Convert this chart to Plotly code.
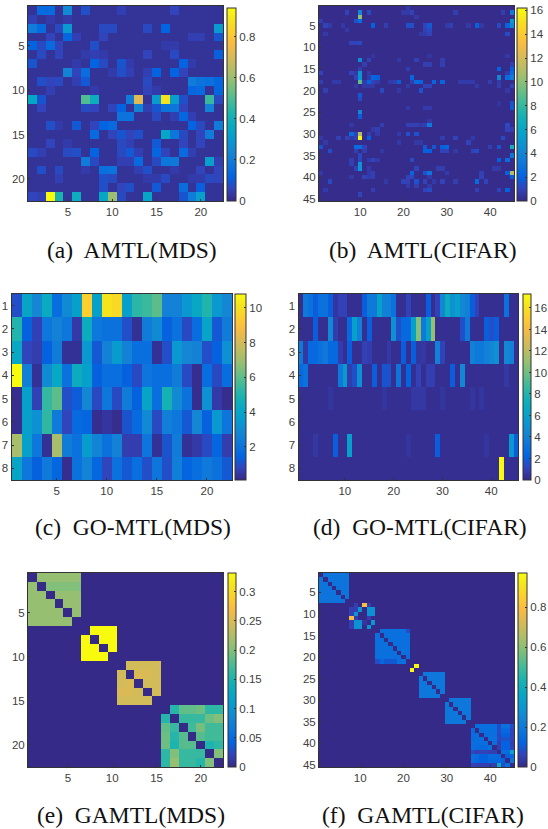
import plotly.graph_objects as go

W, H = 548, 829

# ---------- data ----------
amtl_mds_base = 0.02
amtl_mds = {
 1:{2:.14,3:.14,5:.25,7:.08,11:.05,17:.06},
 2:{1:.05,3:.04,5:.04},
 3:{1:.2,2:.14,4:.07,5:.3,9:.07,10:.07,14:.07,16:.12,22:.3},
 4:{3:.06,5:.13,6:.05,9:.06,19:.05,20:.05,22:.09},
 5:{1:.12,2:.07,3:.14,4:.06,8:.08,16:.04,17:.04},
 6:{2:.07,4:.06,7:.04,8:.05,9:.04,14:.06,17:.07,22:.11},
 7:{1:.09,6:.04,8:.12,9:.07,11:.09,12:.04,18:.12,19:.04},
 8:{5:.23,6:.06,7:.15,10:.04,11:.08,12:.05,14:.05,15:.12,17:.12,18:.06},
 9:{2:.08,3:.06,4:.07,6:.05,7:.1,14:.07,19:.2,20:.17,21:.16,22:.13},
 10:{3:.05,8:.04,14:.06,15:.04,19:.13,20:.14,22:.13},
 11:{1:.35,2:.09,7:.5,8:.38,12:.2,13:.72,15:.3,16:.88,17:.32,18:.08,21:.47,22:.07},
 12:{2:.06,7:.07,8:.06,10:.06,11:.12,13:.23,14:.05,15:.09,16:.17,17:.18,18:.06,21:.22},
 13:{11:.17,12:.17,15:.07,17:.05,18:.13,19:.05},
 14:{3:.08,4:.04,6:.1,8:.06,9:.12,10:.14,19:.12,20:.07,22:.2},
 15:{8:.14,10:.06,11:.09,12:.06,13:.08,16:.35,17:.18,18:.07,20:.06,21:.2},
 16:{3:.06,5:.04,11:.07,12:.05,15:.1,18:.06,20:.06},
 17:{1:.07,2:.05,5:.07,6:.08,8:.12,11:.07,12:.1,13:.05,15:.13,16:.06,18:.14,19:.05},
 18:{7:.2,8:.07,11:.05,12:.05,13:.14,15:.07,16:.18,17:.19,21:.32,22:.05},
 19:{2:.08,4:.07,7:.04,9:.16,10:.17,13:.05,14:.08,17:.04,20:.06,22:.06},
 20:{4:.05,9:.08,10:.07,14:.04,15:.04,16:.07,19:.04,20:.04,21:.07,22:.06},
 21:{9:.08,11:.06,12:.08,15:.1,18:.15,20:.11},
 22:{1:.06,2:.05,3:.94,4:.42,6:.38,9:.35,10:.6,11:.07,14:.35,18:.09,19:.2,20:.32},
}

amtl_cifar_base = 0.1
amtl_cifar = {
 1:{21:.6},
 2:{7:1,10:4,12:1.2,20:.6,21:.6,22:1,32:.8,43:.8,45:3.5},
 3:{10:10,23:.6},
 4:{1:.8,9:1.5,10:2.5,45:5.5},
 5:{2:1,3:.7,6:.6,13:2,16:.8,21:1.4,22:1.4,25:1,26:1.7,30:.7,31:.9,35:.6,37:2,38:.6,42:1.2,44:2.2,45:4},
 6:{7:.6,25:.9,26:1.2},
 7:{2:.6,24:.6,25:.7,26:1,44:1.3},
 9:{8:1,9:1,10:1.2},
 12:{13:.5,26:.5,44:.6},
 13:{10:4.5,12:1,19:.6,23:.9,29:.8},
 14:{11:.8,25:.8,26:.8,29:.8,45:.8},
 15:{10:.8,21:.8,42:2,45:2},
 16:{1:1,8:1,9:.6,10:5,12:.7,44:.7,45:2.5},
 17:{9:1,10:5,12:.7,13:2.2,14:2,22:2.2,42:4,44:2.5,45:3.5},
 18:{1:.8,4:.7,5:.7,10:9,11:.7,12:2.2,13:1,14:.7,17:.7,18:.8,19:1.8,22:.8,23:2.5,24:2.2,27:2.2,29:2.2,33:.7,34:.7,35:.7,36:.7,40:.8,42:.7},
 19:{9:.6,11:.6,12:.6,13:.6,21:.6,25:1,26:1,37:.7,42:.8,45:1},
 20:{2:.8,15:1.2,19:.6,24:1.5,44:.6},
 21:{10:1.7},
 22:{10:1.2},
 23:{42:.5,45:1.5},
 24:{21:.7,25:.7,26:.7,45:1.7},
 25:{10:4},
 26:{10:1.8},
 27:{26:.6},
 28:{8:.6,15:.8,21:.9,22:.9,23:.9,24:.6,25:.9,26:3.2,44:1.2},
 29:{13:.7,14:.8,44:1,45:.8},
 30:{8:2.5,9:1,10:11,12:.8,14:.7,19:.7,21:1.4,23:1.5},
 31:{1:.7,5:.9,7:1,8:.6,9:1,10:16,12:2,29:.8,32:1,36:.7,43:1.3},
 32:{2:.6,19:.7,23:.6,24:.6,35:1},
 33:{1:1.5,9:2.5,10:2.5,11:1,25:1.6,27:1.6,29:2,30:2.3,40:.8,42:1.5,45:7},
 34:{3:1.3,9:.8,11:.8,15:.6,25:2,26:2,29:1,30:1,32:.6,36:1,37:1.3},
 35:{10:1.2,45:3},
 36:{8:.8,10:1.2,12:.7,13:1,14:.7,22:1.2,42:2,44:2.5},
 37:{8:.9,10:5},
 38:{9:1,10:5,12:.7,23:1,28:.8,29:.8,41:.7,42:.7},
 39:{1:.7,12:.6,13:.9,22:2.2,25:1.5,26:3,30:.7,38:.9,44:2,45:11},
 40:{8:.7,11:1,12:.7,13:.9,21:1,22:1.2,26:.7,38:1,45:2},
 41:{3:1.2,16:.6,20:1,21:1,23:1.5,25:1,27:.7,29:1,32:.8,37:2.5,39:1},
 42:{21:.7,23:.8,26:.7},
 43:{2:.7,13:.8,25:1,26:1.3,37:.9,42:1,44:2},
 44:{10:1},
}

gomtl_mds = [
 [1.0,4,2.8,4.3,1.8,3,3.8,9.5,3.8,10.1,9.8,3.8,5.2,5.5,6,2.6,2.6,3.5,4.2,5,3.5,2.8],
 [5,1.4,.7,2.2,2.6,2.2,.5,4.4,2.2,2,2,1,.3,2.4,3,1.4,2,.9,1.8,4,1.2,2.4],
 [4.2,.8,.6,1.4,2.4,.3,.3,3.5,1.2,2.6,3.6,2.6,1.9,1.9,.3,1,3.5,2.8,2.6,1,1.4,3.2],
 [10.8,2.5,.3,3,4.2,2,4.4,3.8,1.4,1.9,1.9,1.4,.9,2.1,1.9,1.9,2.4,.9,.2,1.8,.9,1.8],
 [.2,3.8,.7,5.4,6,1,1.3,2.8,.9,2.2,.9,2.4,1.4,4,1.9,4.8,2.9,2,.2,3.2,.5,.2],
 [.2,3.8,3.2,5.3,2.3,.8,1.7,1.6,.2,.4,.2,1.1,1.7,2.9,.9,2.5,2.2,1.2,2.8,1.4,3.5,2.1],
 [7.2,3.8,2.2,.3,7.2,2.4,2,3.6,2.7,2,2.6,.6,.6,2.1,.3,1.1,2.4,.3,.5,.9,1.6,.6],
 [4,2.2,1.4,2.3,1.6,.2,2,2.7,1.6,.8,2,1.2,1.9,1,2.1,1,2.5,1.5,1.9,2.3,2,1.2],
]

gomtl_cifar_base = 0.2
gomtl_cifar = {
 1:{2:3.5,3:3,4:2,5:3,6:3,7:2,8:.5,9:1,10:1,14:2,15:3.5,16:3.5,17:6,18:4,19:4,20:3,23:1,27:2,29:1,30:4.5,31:7,32:5,33:6,34:4.5,35:4,36:2,37:1,43:3},
 2:{4:2,7:4.5,8:.8,11:2.5,12:6,13:4,15:2,20:5,21:1.5,22:2.5,23:2.5,24:6,25:10.5,26:3.5,27:6,28:11,34:1.5,35:3.5,39:2,40:1.5,41:2},
 3:{1:3.5,2:.6,3:2.5,4:2.5,5:3,6:3.5,7:2.5,8:2.5,9:.8,11:2,14:1,15:.8,19:.6,22:2,24:2,25:.5,26:.6,29:4,30:1,36:4,37:3.5,38:3.5,39:4,40:4.5,41:5,43:4.5,44:4},
 4:{1:2.5,2:3,9:3.5,10:5.5,11:.8,12:1.5,13:5,16:2,18:1.7,19:1.5,21:3.2,23:2.2,25:1,27:.9,28:.9,32:2,34:4.5,43:.6},
 5:{7:.5,18:.5,24:.6,25:.6,26:.6,30:.5,36:.5,38:.5},
 7:{4:.6,8:2,11:6,23:.5,29:2,39:.5,44:5.5,45:2},
 8:{42:17.3},
}

gamtl_mds_rows = {
 1:{2:.21,3:.21,4:.21,5:.21,6:.21},
 2:{1:.21,3:.2,4:.2,5:.2,6:.2},
 3:{1:.21,2:.21,4:.21,5:.21,6:.21},
 4:{1:.21,2:.21,3:.21,5:.21,6:.21},
 5:{1:.21,2:.21,3:.21,4:.21,6:.21},
 6:{1:.21,2:.21,3:.21,4:.21,5:.21},
 7:{8:.332,9:.332,10:.332},
 8:{7:.332,9:.332,10:.332},
 9:{7:.332,8:.332,10:.332},
 10:{7:.332,8:.332,9:.332},
 11:{12:.245,13:.245,14:.245,15:.245},
 12:{11:.245,13:.25,14:.25,15:.245},
 13:{11:.245,12:.25,14:.245,15:.245},
 14:{11:.25,12:.25,13:.245,15:.245},
 15:{11:.245,12:.245,13:.245,14:.245},
 16:{17:.155,18:.185,19:.185,20:.19,21:.16,22:.16},
 17:{16:.155,18:.165,19:.165,20:.165,21:.19,22:.2},
 18:{16:.185,17:.165,19:.17,20:.195,21:.17,22:.17},
 19:{16:.19,17:.155,18:.18,20:.18,21:.17,22:.17},
 20:{16:.19,17:.15,18:.18,19:.18,21:.15,22:.16},
 21:{16:.16,17:.2,18:.165,19:.165,20:.165,22:.2},
 22:{16:.16,17:.21,18:.165,19:.165,20:.155,21:.2},
}

gamtl_cifar_bands = [[1,7,.18],[14,21,.165],[24,29,.19],[30,35,.19]]
gamtl_cifar_rows = {
 8:{9:.05,11:.8,12:.05},
 9:{8:.05,9:.05,10:.3,12:.28,13:.28},
 10:{8:.05,9:.3,12:.28,13:.28},
 11:{8:.8,9:.05,12:.05},
 12:{8:.05,9:.28,10:.28,11:.03,13:.3},
 13:{8:.05,9:.28,10:.28,12:.3},
 14:{21:.08},
 21:{14:.08,15:.14,16:.1,17:.1,18:.1},
 22:{23:.97},
 23:{22:.97},
 36:{37:.16,38:.16,39:.16,40:.16,41:.16,42:.08,43:.17,44:.17,45:.08},
 37:{36:.14,38:.16,39:.16,40:.16,41:.16,42:.08,43:.14,44:.14,45:.06},
 38:{36:.15,37:.16,39:.16,40:.16,41:.16,42:.07,43:.12,44:.12,45:.06},
 39:{36:.15,37:.16,38:.16,40:.16,41:.17,42:.07,43:.09,44:.09,45:.06},
 40:{36:.16,37:.16,38:.16,39:.16,41:.16,42:.05,43:.12,44:.12,45:.05},
 41:{36:.16,37:.15,38:.14,39:.14,40:.16,42:.05,43:.12,44:.12,45:.06},
 42:{36:.07,37:.05,38:.06,39:.06,40:.05,41:.05,43:.16,44:.15,45:.35},
 43:{36:.16,37:.15,38:.12,39:.12,40:.15,41:.15,42:.14,44:.12,45:.14},
 44:{36:.16,37:.14,38:.12,39:.12,40:.14,41:.14,42:.14,43:.12,45:.18},
 45:{36:.06,37:.05,38:.05,39:.05,40:.05,41:.05,42:.4,43:.08,44:.16},
}

captions = ["(a)  AMTL(MDS)", "(b)  AMTL(CIFAR)", "(c)  GO-MTL(MDS)",
            "(d)  GO-MTL(CIFAR)", "(e)  GAMTL(MDS)", "(f)  GAMTL(CIFAR)"]

# ---------- build matrices ----------
def grid(rows, cols, base, sparse):
    m = [[base]*cols for _ in range(rows)]
    for r, d in sparse.items():
        for c, v in d.items():
            m[r-1][c-1] = v
    return m

gamtl_cifar = grid(45, 45, 0, gamtl_cifar_rows)
for a, b, v in gamtl_cifar_bands:
    for r in range(a, b+1):
        for c in range(a, b+1):
            if r != c and c not in gamtl_cifar_rows.get(r, {}):
                gamtl_cifar[r-1][c-1] = v

parula_rgb = [(.2081,.1663,.5292),(.1959,.2645,.7279),(.0117,.3875,.8820),(.0498,.4586,.8641),
              (.0793,.5200,.8312),(.0343,.5966,.8199),(.0228,.6535,.7768),(.0843,.6928,.7062),
              (.2178,.7250,.6193),(.3953,.7459,.5244),(.5709,.7485,.4494),(.7184,.7411,.3905),
              (.8507,.7299,.3360),(.9739,.7314,.2666),(.9880,.8066,.1794),(.9589,.8949,.1132),
              (.9763,.9831,.0538)]
parula = [[i/(len(parula_rgb)-1), "rgb(%d,%d,%d)" % tuple(round(c*255) for c in rgb)]
          for i, rgb in enumerate(parula_rgb)]

panels = [
 dict(z=grid(22,22,amtl_mds_base,amtl_mds), zr=(0,.94), box=(28,223,6,201), cb=(226.5,235,8,201),
      xt=[5,10,15,20], yt=[5,10,15,20], ct=[0,.2,.4,.6,.8], cap=(132,250)),
 dict(z=grid(45,45,amtl_cifar_base,amtl_cifar), zr=(0,16.2), box=(319,514,6,201), cb=(516.5,526,8,201),
      xt=[10,20,30,40], yt=list(range(5,50,5)), ct=list(range(0,18,2)), cap=(422.5,250)),
 dict(z=gomtl_mds, zr=(.1,10.8), box=(11.5,232,294,480), cb=(235,246,294,480),
      xt=[5,10,15,20], yt=list(range(1,9)), ct=[2,4,6,8,10], cap=(133,527)),
 dict(z=grid(8,45,gomtl_cifar_base,gomtl_cifar), zr=(0,17.3), box=(298.5,518,294,480), cb=(523,531,294,480),
      xt=[10,20,30,40], yt=list(range(1,9)), ct=list(range(0,18,2)), cap=(420,527)),
 dict(z=grid(22,22,0,gamtl_mds_rows), zr=(0,.332), box=(28,223,573,767), cb=(228,236,573,767),
      xt=[5,10,15,20], yt=[5,10,15,20], ct=[0,.05,.1,.15,.2,.25,.3], cap=(131,815)),
 dict(z=gamtl_cifar, zr=(0,.97), box=(319,514,573,767), cb=(518,527,573,767),
      xt=[10,20,30,40], yt=list(range(5,50,5)), ct=[0,.2,.4,.6,.8], cap=(422.5,815)),
]

fig = go.Figure()
tickfont = dict(family="Liberation Sans", size=11.5, color="#404040")
for i, p in enumerate(panels, start=1):
    x0, x1, y0, y1 = p["box"]
    cx0, cx1, cy0, cy1 = p["cb"]
    rows, cols = len(p["z"]), len(p["z"][0])
    fig.add_trace(go.Heatmap(
        z=p["z"], x=list(range(1, cols+1)), y=list(range(1, rows+1)),
        xaxis=f"x{i}", yaxis=f"y{i}", zmin=p["zr"][0], zmax=p["zr"][1],
        colorscale=parula, zsmooth=False, hoverongaps=False,
        colorbar=dict(
            x=cx0/W, xanchor="left", xref="paper",
            y=1-cy1/H, yanchor="bottom", yref="paper",
            len=(cy1-cy0)/H, lenmode="fraction",
            thickness=cx1-cx0, thicknessmode="pixels",
            tickvals=p["ct"], ticktext=[f"{t:g}" for t in p["ct"]],
            ticks="inside", ticklen=2, tickcolor="#333333", tickwidth=1,
            outlinecolor="#333333", outlinewidth=1, ypad=0, xpad=0,
            tickfont=tickfont,
        ),
    ))
    ax = dict(ticks="inside", ticklen=2, tickwidth=1, tickcolor="#333333",
              showline=True, linecolor="#333333", linewidth=1, mirror=True,
              showgrid=False, zeroline=False, tickfont=tickfont)
    fig.layout[f"xaxis{i}"] = dict(ax, domain=[x0/W, x1/W], range=[.5, cols+.5],
                                   tickvals=p["xt"], anchor=f"y{i}")
    fig.layout[f"yaxis{i}"] = dict(ax, domain=[1-y1/H, 1-y0/H], range=[rows+.5, .5],
                                   tickvals=p["yt"], anchor=f"x{i}")
    fig.add_annotation(text=captions[i-1], xref="paper", yref="paper",
                       x=p["cap"][0]/W, y=1-p["cap"][1]/H, xanchor="center", yanchor="middle",
                       showarrow=False, font=dict(family="Liberation Serif", size=23.5, color="#111111"))

fig.update_layout(width=W, height=H, margin=dict(l=0, r=0, t=0, b=0, autoexpand=False),
                  paper_bgcolor="white", plot_bgcolor="white", showlegend=False)
fig.write_html("out.html", config=dict(displayModeBar=False),
               post_script=("document.documentElement.style.cssText='margin:0;padding:0;height:829px;overflow:hidden';"
                            "document.body.style.cssText='margin:0;padding:0;height:829px;overflow:hidden';"
                            "var g=document.querySelector('.plotly-graph-div');g.parentElement.style.cssText='height:829px;overflow:hidden';"))
